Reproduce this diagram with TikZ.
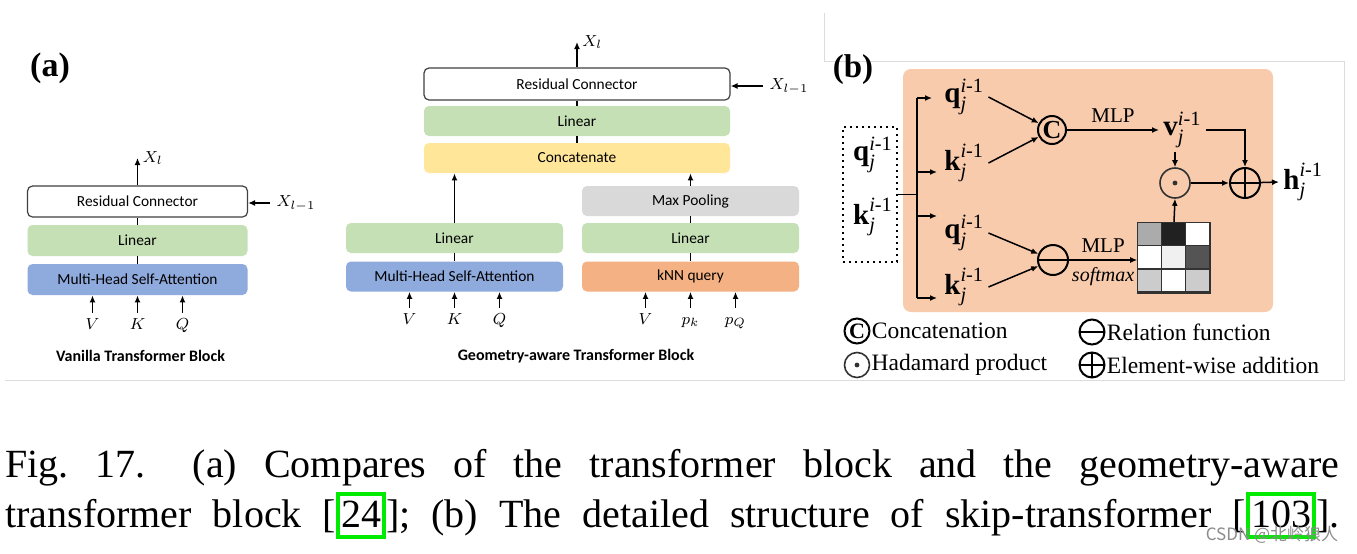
\documentclass[tikz,border=0pt]{standalone}
\usepackage{amsmath}
\usepackage{fontspec}
\setmainfont{Liberation Serif}
\newfontfamily\calibri{Carlito}
\newfontfamily\cjkfont{Noto Sans CJK SC}
\usetikzlibrary{arrows.meta,positioning,calc}

\definecolor{boxgreen}{RGB}{197,224,180}
\definecolor{boxblue}{RGB}{143,170,220}
\definecolor{boxyellow}{RGB}{255,230,153}
\definecolor{boxgray}{RGB}{217,217,217}
\definecolor{boxorange}{RGB}{244,177,131}
\definecolor{resgray}{RGB}{64,64,64}
\definecolor{peach}{RGB}{248,203,173}
\definecolor{framegray}{RGB}{220,220,220}
\definecolor{dotgray}{RGB}{50,50,50}
\definecolor{citegreen}{RGB}{0,235,0}

% feature with layer and point index
\newcommand{\feat}[1]{$\text{\bfseries #1}^{\text{\itshape i}\text{-1}}_{\text{\itshape j}}$}
% green frame round a reference number
\newcommand{\citebox}[1]{{\setlength{\fboxrule}{2pt}\setlength{\fboxsep}{0.5pt}\color{citegreen}\fbox{\color{black}\rule[-3.5pt]{0pt}{18.5pt}#1}}}

\begin{document}
\begin{tikzpicture}[x=0.5pt, y=-0.5pt, >={Latex[length=3.5pt,width=3pt]},
    blk/.style={rounded corners=2.5pt, inner sep=0pt, minimum height=15pt,
        font=\calibri\fontsize{7.7}{9.2}\selectfont},
    resid/.style={blk, draw=resgray, fill=white, line width=0.6pt},
    lbl/.style={font=\fontsize{8.5}{10}\selectfont, inner sep=1.5pt},
    inlbl/.style={lbl, anchor=base, text height=6.5pt, text depth=2pt},
    ttl/.style={font=\calibri\bfseries\fontsize{8}{10}\selectfont},
    featnode/.style={font=\fontsize{14.5}{17}\selectfont, inner sep=2pt},
    opnode/.style={circle, draw, line width=1pt, minimum size=15pt, inner sep=0pt},
    catop/.style={opnode, minimum size=14pt, font=\bfseries\fontsize{13}{13}\selectfont},
    relop/.style={opnode, path picture={\draw[line width=1pt]
        (path picture bounding box.west) -- (path picture bounding box.east);}},
    addop/.style={opnode, path picture={\draw[line width=1pt]
        (path picture bounding box.west) -- (path picture bounding box.east)
        (path picture bounding box.north) -- (path picture bounding box.south);}},
    hadop/.style={opnode, draw=dotgray, line width=0.8pt, path picture={\fill[dotgray]
        (path picture bounding box.center) circle (1.2pt);}},
    legend/.style={font=\fontsize{11.75}{14}\selectfont, inner sep=0.5pt}]

    \path[use as bounding box, fill=white] (0,0) rectangle (1357,553);

    % Frame of the figure
    \draw[framegray, line width=0.5pt] (5,380.5) -- (1344,380.5) -- (1344,61.5)
        -- (824,61.5) -- (824,13);

    % (a) Vanilla transformer block
    \node[font=\bfseries\fontsize{17}{20}\selectfont] (la) at (50,68) {(a)};
    \node[resid, minimum width=110pt, minimum height=15.5pt] (rc1) at (137.5,201.5) {Residual Connector};
    \node[blk, fill=boxgreen, minimum width=110pt, minimum height=15.5pt] (lin1) at (137.5,240.5) {Linear};
    \node[blk, fill=boxblue, minimum width=110pt, minimum height=15.5pt] (mh1) at (137.5,279.5) {Multi-Head Self-Attention};
    \node[inlbl] (av) at (92.5,329) {$V$};
    \node[inlbl] (ak) at (137.5,329) {$K$};
    \node[inlbl] (aq) at (182.5,329) {$Q$};
    \coordinate (ao) at (137.5,158);
    \node[lbl, right=1pt of ao] (axo) {$X_l$};
    \node[lbl, inner sep=3pt] (axi) at (296,203) {$X_{l-1}$};
    \node[ttl] (at) at (140.5,356) {Vanilla Transformer Block};

    % (a) Geometry-aware transformer block
    \node[resid, minimum width=153pt, minimum height=16pt] (rc2) at (577,84) {Residual Connector};
    \node[blk, fill=boxgreen, minimum width=153pt] (lin2) at (577,121) {Linear};
    \node[blk, fill=boxyellow, minimum width=153pt] (cat) at (577,158) {Concatenate};
    \node[blk, fill=boxgreen, minimum width=108.5pt] (lin3) at (454.5,238) {Linear};
    \node[blk, fill=boxblue, minimum width=108.5pt] (mh2) at (454.5,276.5) {Multi-Head Self-Attention};
    \node[blk, fill=boxgray, minimum width=108.5pt] (mp) at (690.5,201) {Max Pooling};
    \node[blk, fill=boxgreen, minimum width=108.5pt] (lin4) at (690.5,238) {Linear};
    \node[blk, fill=boxorange, minimum width=108.5pt] (knn) at (690.5,276.5) {kNN query};
    \node[inlbl] (bv) at (409.5,324) {$V$};
    \node[inlbl] (bk) at (454.5,324) {$K$};
    \node[inlbl] (bq) at (499.5,324) {$Q$};
    \node[inlbl] (cv) at (645.5,324) {$V$};
    \node[inlbl] (cpk) at (690.5,324) {$p_k$};
    \node[inlbl] (cpq) at (735.5,324) {$p_Q$};
    \coordinate (bo) at (577,42);
    \node[lbl, right=1pt of bo] (bxo) {$X_l$};
    \node[lbl, inner sep=3pt] (bxi) at (789,86) {$X_{l-1}$};
    \node[ttl] (bt) at (576,356) {Geometry-aware Transformer Block};

    \begin{scope}[line width=0.9pt]
        \draw (mh1) -- (lin1) -- (rc1);
        \draw[->] (rc1) -- (ao);
        \draw[->] (axi) -- (axi -| rc1.east);
        \foreach \n in {av,ak,aq} \draw[->] (\n) -- (\n |- mh1.south);

        \draw (cat) -- (lin2) -- (rc2);
        \draw[->] (rc2) -- (bo);
        \draw[->] (bxi) -- (bxi -| rc2.east);
        \draw (mh2) -- (lin3);
        \draw[->] (lin3) -- (lin3 |- cat.south);
        \draw (knn) -- (lin4) -- (mp);
        \draw[->] (mp) -- (mp |- cat.south);
        \foreach \n in {bv,bk,bq} \draw[->] (\n) -- (\n |- mh2.south);
        \foreach \n in {cv,cpk,cpq} \draw[->] (\n) -- (\n |- knn.south);
    \end{scope}

    % (b) Skip-transformer
    \node[font=\bfseries\fontsize{16.5}{20}\selectfont] (lb) at (853,70) {(b)};
    \fill[peach, rounded corners=4pt] (903,69) rectangle (1273,312);

    \node[draw, dotted, line width=1pt, minimum width=27pt, minimum height=67.5pt, inner sep=0pt] (inbox) at (870,194.5) {};
    \node[featnode] (qin) at (873,155) {\feat{q}};
    \node[featnode] (kin) at (873,217) {\feat{k}};

    \coordinate (tr) at (917,194.5);
    \coordinate (b1) at (932,98);
    \coordinate (b2) at (937,172);
    \coordinate (b3) at (937,216);
    \coordinate (b4) at (937,298);

    \node[featnode, anchor=west] (qa) at (940,97) {\feat{q}};
    \node[featnode, anchor=west] (ka) at (940,163) {\feat{k}};
    \node[featnode, anchor=west] (qb) at (940,233) {\feat{q}};
    \node[featnode, anchor=west] (kb) at (940,287) {\feat{k}};

    \node[catop] (cc) at (1052,130) {C};
    \node[featnode, anchor=west] (vv) at (1159,130) {\feat{v}};
    \node[hadop] (hp) at (1175,183) {};
    \node[addop] (plus) at (1245,183) {};
    \node[featnode, anchor=west] (hout) at (1279,182) {\feat{h}};
    \node[relop] (rel) at (1053,260) {};
    \node[draw=dotgray, line width=0.8pt, minimum width=36pt, minimum height=35pt, inner sep=0pt] (attn) at (1174,258) {};

    % attention weights
    \foreach \cellcol [count=\n from 0] in {black!33,black!87,white,white,black!6,black!67,black!20,white,black!20} {
        \pgfmathtruncatemacro{\rw}{\n/3}
        \pgfmathtruncatemacro{\cl}{\n-3*\rw}
        \draw[dotgray, line width=0.7pt, fill=\cellcol] ($(attn.north west)+(\cl*24,\rw*23.33)$) rectangle ++(24,23.33);
    }

    \begin{scope}[line width=0.75pt]
        \draw (inbox.east) -- (tr);
        \draw (tr |- b1) -- (tr |- b4);
        \foreach \b in {b1,b2,b3,b4} \draw[->] (tr |- \b) -- (\b);
        \draw[->] (qa.east) -- (cc);
        \draw[->] (ka.east) -- (cc);
        \draw[->] (qb.east) -- (rel);
        \draw[->] (kb.east) -- (rel);
        \draw[->] (cc) -- node[above, font=\fontsize{10.5}{12}\selectfont] (mlpa) {MLP} (vv.west);
        \draw[->] (rel) -- node[above, font=\fontsize{10.5}{12}\selectfont] (mlpb) {MLP}
            node[below, font=\itshape\fontsize{10}{12}\selectfont] (smax) {softmax} (rel -| attn.west);
        \draw[->] (vv.east) -| (plus.north);
        \draw[->] (hp |- vv.south) -- (hp);
        \draw[->] (attn.north) -- (hp.south);
        \draw[->] (hp) -- (plus);
        \draw[->] (plus) -- (hout.west);
    \end{scope}

    % Legend
    \node[catop, minimum size=12.5pt, font=\bfseries\fontsize{11}{11}\selectfont] (lgc) at (857,331) {C};
    \node[legend, right=0pt of lgc] (lgct) {Concatenation};
    \node[relop, minimum size=12.5pt] (lgr) at (1092,332) {};
    \node[legend, right=0pt of lgr] (lgrt) {Relation function};
    \node[hadop, minimum size=12.5pt] (lgd) at (857,365) {};
    \node[legend, right=0pt of lgd] (lgdt) {Hadamard product};
    \node[addop, minimum size=12.5pt] (lgp) at (1092,365) {};
    \node[legend, right=0pt of lgp] (lgpt) {Element-wise addition};

    % Caption
    \node[anchor=base west, inner sep=0pt, font=\fontsize{20}{24}\selectfont] (cap1) at (5,477)
        {\frenchspacing\makebox[667pt][s]{Fig. 17.\hspace{10pt} (a) Compares of the transformer block and the geometry-aware}};
    \node[anchor=base west, inner sep=0pt, font=\fontsize{20}{24}\selectfont] (cap2) at (5,527)
        {\frenchspacing\makebox[667pt][s]{transformer block [\citebox{24}]; (b) The detailed structure of skip-transformer [\citebox{103}].}};
    \node[font=\cjkfont\fontsize{8.5}{10}\selectfont, text=black!45] (wm) at (1272,535) {CSDN @北岭狼人};
\end{tikzpicture}
\end{document}
